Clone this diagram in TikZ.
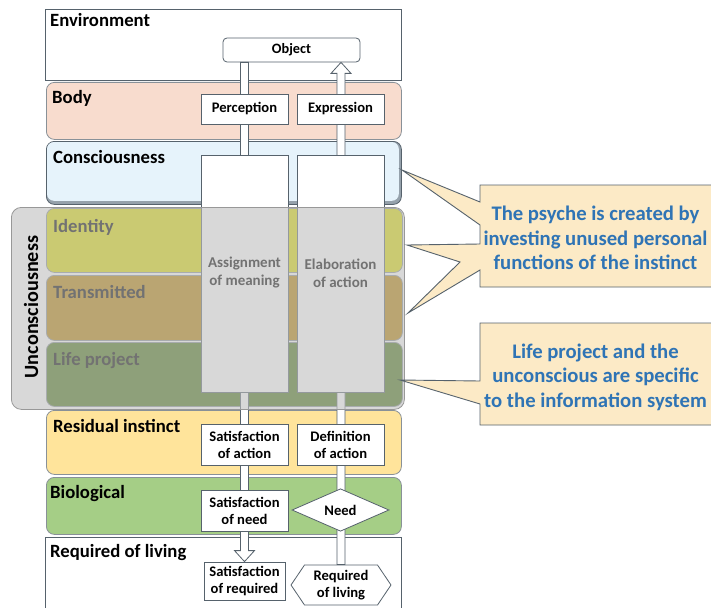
\documentclass[tikz,border=0pt]{standalone}
\usepackage{fontspec}
\setmainfont{Carlito}
\usetikzlibrary{shapes.geometric,shapes.symbols,calc}
\definecolor{edge}{HTML}{56626C}
\definecolor{bodyc}{HTML}{F8DCCE}
\definecolor{consc}{HTML}{E6F3FB}
\definecolor{consd}{HTML}{95A1AB}
\definecolor{identc}{HTML}{DEDE00}
\definecolor{transc}{HTML}{B68000}
\definecolor{lifec}{HTML}{487314}
\definecolor{residc}{HTML}{FFE49B}
\definecolor{bioc}{HTML}{A5CE86}
\definecolor{uncc}{HTML}{BEBEBE}
\definecolor{callc}{HTML}{FCEAC6}
\definecolor{callt}{HTML}{2F74B5}
\newcommand\hdownarr[2]{\draw[arrowst] let \p1=(#1),\p2=(#2) in
  (\x1-4pt,\y1) -- (\x1-4pt,\y2+11pt) -- (\x1-10pt,\y2+11pt) -- (\x1,\y2)
  -- (\x1+10pt,\y2+11pt) -- (\x1+4pt,\y2+11pt) -- (\x1+4pt,\y1) -- cycle;}
\newcommand\huparr[2]{\draw[arrowst] let \p1=(#1),\p2=(#2) in
  (\x1-4pt,\y1) -- (\x1-4pt,\y2-11pt) -- (\x1-10pt,\y2-11pt) -- (\x1,\y2)
  -- (\x1+10pt,\y2-11pt) -- (\x1+4pt,\y2-11pt) -- (\x1+4pt,\y1) -- cycle;}
\begin{document}
\begin{tikzpicture}[x=1pt,y=-1pt,
  layer/.style={draw=edge!70, line width=0.8pt, rounded corners=8pt, inner sep=0pt, anchor=north west, minimum width=355pt},
  sqlayer/.style={draw=edge, line width=0.8pt, inner sep=0pt, anchor=north west, minimum width=356pt},
  lab/.style={anchor=base west, inner sep=0pt, font=\bfseries\fontsize{18.7}{22}\selectfont},
  boxn/.style={draw=edge, fill=white, line width=0.8pt, minimum width=87pt, align=center, inner sep=0pt,
    font=\bfseries\fontsize{14.6}{17}\selectfont},
  coltext/.style={align=center, inner sep=0pt, font=\bfseries\fontsize{15}{18}\selectfont},
  arrowst/.style={draw=edge, fill=white, line width=0.8pt, line join=miter},
  callst/.style={draw=edge, fill=callc, line width=0.9pt, line join=miter},
  calltext/.style={align=center, inner sep=0pt, text=callt, font=\bfseries\fontsize{20.7}{24.5}\selectfont}]
\useasboundingbox (0,0) rectangle (711,607);
\fill[white] (0,0) rectangle (711,607);
% layers
\node[sqlayer, minimum height=71pt] (env) at (45,9) {};
\node[layer, fill=bodyc, minimum height=57pt] (body) at (46,82) {};
\node[layer, fill=consd, draw=edge, minimum height=63pt] (cons) at (46,141) {};
\fill[consc, rounded corners=7pt] ($(cons.north west)+(1,1)$) rectangle ($(cons.south east)+(-3,-4)$);
\node[layer, fill=identc, minimum width=356pt, minimum height=64pt] (ident) at (46,208) {};
\node[layer, fill=transc, minimum width=356pt, minimum height=65pt] (trans) at (46,275) {};
\node[layer, fill=lifec, minimum width=356pt, minimum height=64pt] (life) at (46,342) {};
\node[layer, fill=residc, minimum height=64pt] (resid) at (46,410) {};
\node[layer, fill=bioc, minimum height=57pt] (bio) at (46,477) {};
\node[sqlayer, minimum height=85pt] (req) at (45,537) {};
% layer labels
\node[lab] (lenv) at (50,27) {Environment};
\node[lab] (lbody) at (52,103) {Body};
\node[lab] (lcons) at (53,163) {Consciousness};
\node[lab] (lident) at (53,232) {Identity};
\node[lab] (ltrans) at (53,298) {Transmitted};
\node[lab] (llife) at (53,365) {Life project};
\node[lab] (lresid) at (53,432) {Residual instinct};
\node[lab] (lbio) at (50,498) {Biological};
\node[lab] (lreq) at (50,557) {Required of living};
% boxes (positions first, for arrows)
\node[boxn, rounded corners=4pt, minimum width=137pt, minimum height=24pt, font=\bfseries\fontsize{14.3}{16}\selectfont] (obj) at (291.5,50) {Object};
\node[boxn, minimum height=38pt, minimum width=81pt, draw=none, fill=none] (satreq0) at (244.5,581) {};
\node[boxn, shape=signal, signal to=east and west, signal pointer angle=112, minimum width=100pt, minimum height=40pt, draw=none, fill=none] (reqliv0) at (341,585) {};
% arrows
\hdownarr{$(obj.south)+(-47,0)$}{satreq0.north}
\huparr{reqliv0.north}{$(obj.south)+(49,0)$}
% boxes
\node[boxn, minimum height=30pt] (perc) at (244.5,109) {Perception};
\node[boxn, minimum height=30pt] (expr) at (340.5,109) {Expression};
\node[boxn, anchor=north west, minimum height=237pt] (colA) at (201,155) {};
\node[boxn, anchor=north west, minimum height=237pt] (colB) at (297,155) {};
\node[coltext] (tA) at (244.5,273) {Assignment\\of meaning};
\node[coltext] (tB) at (340.5,273) {Elaboration\\of action};
\node[boxn, minimum height=41pt] (satact) at (244.5,444.5) {Satisfaction\\of action};
\node[boxn, minimum height=41pt] (defact) at (340.5,444.5) {Definition\\of action};
\node[boxn, minimum height=41pt] (satneed) at (244.5,510.5) {Satisfaction\\of need};
\node[boxn, shape=diamond, minimum width=97pt, minimum height=27pt] (need) at (340.5,510) {Need};
\node[boxn, minimum height=38pt, minimum width=81pt] (satreq) at (244.5,581) {Satisfaction\\of required};
\node[boxn, shape=signal, signal to=east and west, signal pointer angle=112, minimum width=100pt, minimum height=40pt] (reqliv) at (341,585) {Required\\of living};
% unconsciousness overlay
\node[draw=uncc!80!black, fill=uncc, fill opacity=0.6, line width=0.8pt, rounded corners=10pt, anchor=north west,
  minimum width=393pt, minimum height=202pt, inner sep=0pt] (unc) at (11,207) {};
\node[rotate=90, inner sep=0pt, font=\bfseries\fontsize{20.2}{23}\selectfont] (lunc) at (31,307) {Unconsciousness};
% callouts
\draw[callst] (715,185) -- (480,185) -- (480,202) -- (402,170) -- (480,225) -- (480,244) -- (407,245)
  -- (460,262) -- (408,313) -- (480,270) -- (480,287) -- (715,287) -- cycle;
\node[calltext] (call1) at (595.5,238) {The psyche is created by\\investing unused personal\\functions of the instinct};
\draw[callst] (715,323) -- (480,323) -- (480,381) -- (400,380) -- (480,404) -- (480,425) -- (715,425) -- cycle;
\node[calltext] (call2) at (595.5,377) {Life project and the\\unconscious are specific\\to the information system};
\end{tikzpicture}
\end{document}
